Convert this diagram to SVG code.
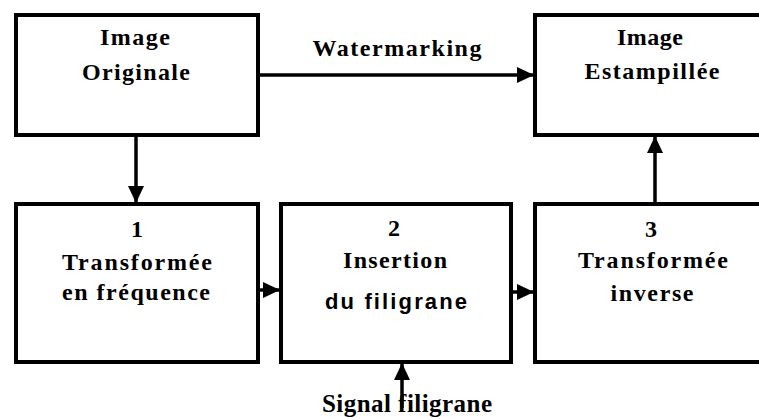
<svg xmlns="http://www.w3.org/2000/svg" width="759" height="419" viewBox="0 0 759 419">
<style>
.box{fill:#fff;stroke:#000;stroke-width:4}
.c{fill:none;stroke:#000;stroke-width:3.5}
</style>
<defs>
<marker id="ah" markerUnits="userSpaceOnUse" markerWidth="17" markerHeight="16" refX="16" refY="8" orient="auto">
<path d="M0,0 L17,8 L0,16 z" fill="#000"/>
</marker>
</defs>
<rect width="759" height="419" fill="#fff"/>
<g id="connectors">
<line class="c" x1="260" y1="75" x2="533" y2="75" marker-end="url(#ah)"/>
<line class="c" x1="136" y1="137" x2="136" y2="202" marker-end="url(#ah)"/>
<line class="c" x1="260" y1="290" x2="279" y2="290" marker-end="url(#ah)"/>
<line class="c" x1="513" y1="292" x2="533" y2="292" marker-end="url(#ah)"/>
<line class="c" x1="655" y1="202" x2="655" y2="137" marker-end="url(#ah)"/>
<line class="c" x1="402" y1="408" x2="402" y2="364" marker-end="url(#ah)"/>
<text x="397" y="56" font-family="Liberation Serif" font-weight="bold" font-size="24" text-anchor="middle" textLength="169">Watermarking</text>
<text x="407" y="412" font-family="Liberation Serif" font-weight="bold" font-size="25" text-anchor="middle" textLength="170">Signal filigrane</text>
</g>
<g id="image-originale">
<rect class="box" x="16" y="15" width="242" height="120"/>
<text x="135" y="45" font-family="Liberation Serif" font-weight="bold" font-size="24" text-anchor="middle" textLength="70">Image</text>
<text x="136" y="80" font-family="Liberation Serif" font-weight="bold" font-size="24" text-anchor="middle" textLength="108">Originale</text>
</g>
<g id="image-estampillee">
<rect class="box" x="535" y="15" width="236" height="120"/>
<text x="650" y="45" font-family="Liberation Serif" font-weight="bold" font-size="24" text-anchor="middle" textLength="66">Image</text>
<text x="652" y="79" font-family="Liberation Serif" font-weight="bold" font-size="24" text-anchor="middle" textLength="135">Estampillée</text>
</g>
<g id="transformee">
<rect class="box" x="16" y="204" width="242" height="158"/>
<text x="137" y="237" font-family="Liberation Serif" font-weight="bold" font-size="24" text-anchor="middle">1</text>
<text x="137" y="270" font-family="Liberation Serif" font-weight="bold" font-size="24" text-anchor="middle" textLength="150">Transformée</text>
<text x="136" y="300" font-family="Liberation Serif" font-weight="bold" font-size="24" text-anchor="middle" textLength="148">en fréquence</text>
</g>
<g id="insertion">
<rect class="box" x="281" y="204" width="230" height="158"/>
<text x="394" y="236" font-family="Liberation Serif" font-weight="bold" font-size="24" text-anchor="middle">2</text>
<text x="395" y="268" font-family="Liberation Serif" font-weight="bold" font-size="24" text-anchor="middle" textLength="104">Insertion</text>
<text x="396" y="309" font-family="Liberation Sans" font-weight="bold" font-size="22" text-anchor="middle" textLength="142">du filigrane</text>
</g>
<g id="transformee-inverse">
<rect class="box" x="535" y="204" width="236" height="158"/>
<text x="651" y="237" font-family="Liberation Serif" font-weight="bold" font-size="24" text-anchor="middle">3</text>
<text x="653" y="268" font-family="Liberation Serif" font-weight="bold" font-size="24" text-anchor="middle" textLength="150">Transformée</text>
<text x="652" y="301" font-family="Liberation Serif" font-weight="bold" font-size="24" text-anchor="middle" textLength="83">inverse</text>
</g>
</svg>
